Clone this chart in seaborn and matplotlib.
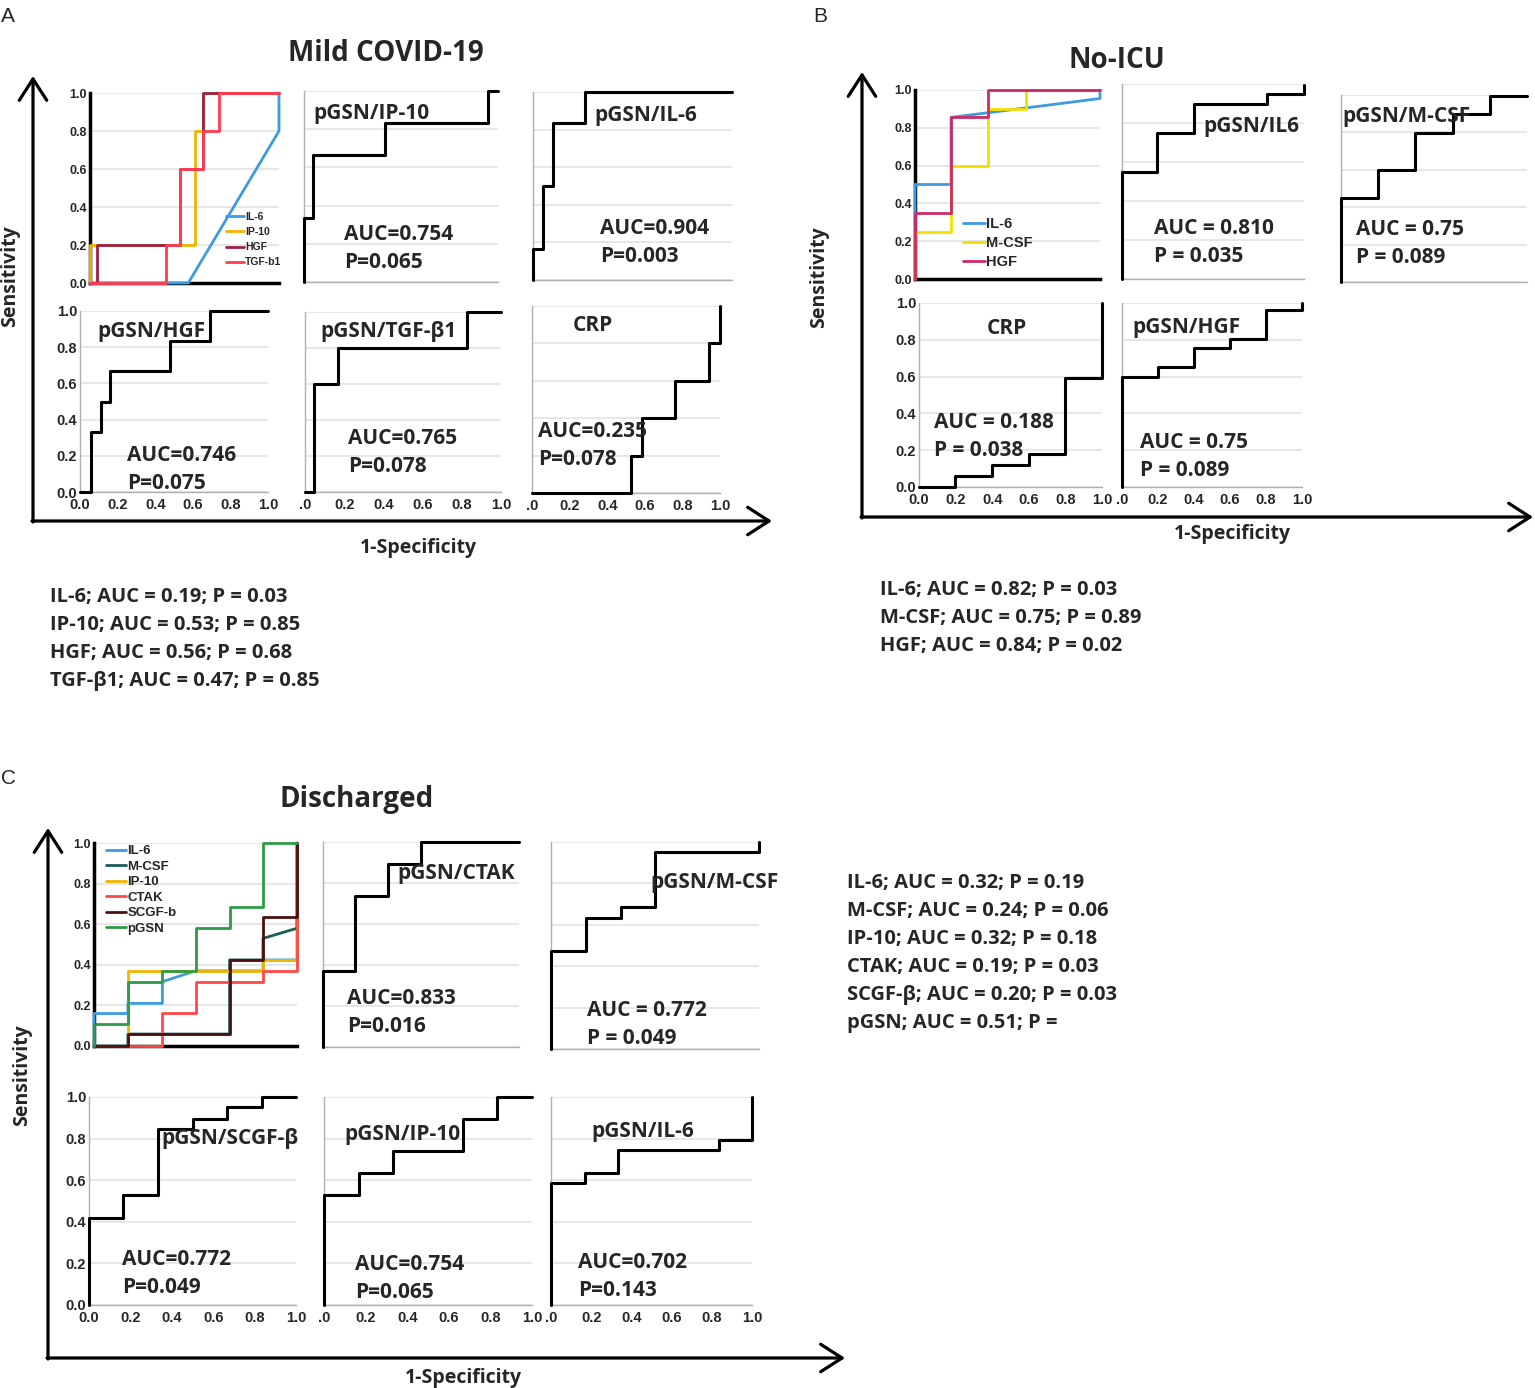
import numpy as np
import pandas as pd
import seaborn as sns
import matplotlib
matplotlib.use("Agg")
from matplotlib import pyplot as plt

sns.set_theme(style="white")
plt.rcParams['font.family'] = ['Open Sans', 'DejaVu Sans']

W, H = 1535, 1388
TICKS = [0, 0.2, 0.4, 0.6, 0.8, 1.0]
XLAB_FULL = ['0.0', '0.2', '0.4', '0.6', '0.8', '1.0']
XLAB_CUT = ['.0', '0.2', '0.4', '0.6', '0.8', '1.0']

# ---------------- A: Mild COVID-19 ----------------
a_il6_fpr = [0, 0.52, 1.0, 1.0]
a_il6_tpr = [0, 0, 0.8, 1.0]
a_ip10_fpr = [0, 0, 0.556, 0.556, 0.6, 0.6, 1.0]
a_ip10_tpr = [0, 0.2, 0.2, 0.8, 0.8, 1.0, 1.0]
a_hgf_fpr = [0, 0.035, 0.035, 0.476, 0.476, 0.6, 0.6, 1.0]
a_hgf_tpr = [0, 0, 0.2, 0.2, 0.6, 0.6, 1.0, 1.0]
a_tgf_fpr = [0, 0.40, 0.40, 0.476, 0.476, 0.6, 0.6, 0.68, 0.68, 1.0]
a_tgf_tpr = [0, 0, 0.2, 0.2, 0.6, 0.6, 0.8, 0.8, 1.0, 1.0]

a_pgsn_ip10_fpr = [0, 0, 0.048, 0.048, 0.42, 0.42, 0.95, 0.95, 1.0]
a_pgsn_ip10_tpr = [0, 0.335, 0.335, 0.665, 0.665, 0.834, 0.834, 1.0, 1.0]
a_pgsn_il6_fpr = [0, 0, 0.05, 0.05, 0.1, 0.1, 0.26, 0.26, 1.0]
a_pgsn_il6_tpr = [0, 0.165, 0.165, 0.5, 0.5, 0.835, 0.835, 1.0, 1.0]
a_pgsn_hgf_fpr = [0, 0.057, 0.057, 0.11, 0.11, 0.16, 0.16, 0.48, 0.48, 0.69, 0.69, 1.0]
a_pgsn_hgf_tpr = [0, 0, 0.333, 0.333, 0.5, 0.5, 0.667, 0.667, 0.833, 0.833, 1.0, 1.0]
a_pgsn_tgf_fpr = [0, 0.046, 0.046, 0.17, 0.17, 0.826, 0.826, 1.0]
a_pgsn_tgf_tpr = [0, 0, 0.6, 0.6, 0.8, 0.8, 1.0, 1.0]
a_crp_fpr = [0, 0.525, 0.525, 0.585, 0.585, 0.76, 0.76, 0.94, 0.94, 1.0, 1.0]
a_crp_tpr = [0, 0, 0.2, 0.2, 0.4, 0.4, 0.6, 0.6, 0.8, 0.8, 1.0]

a_notes = ["IL-6; AUC = 0.19; P = 0.03", "IP-10; AUC = 0.53; P = 0.85",
           "HGF; AUC = 0.56; P = 0.68", "TGF-β1; AUC = 0.47; P = 0.85"]

# ---------------- B: No-ICU ----------------
b_il6_fpr = [0, 0, 0.195, 0.195, 1.0, 1.0]
b_il6_tpr = [0, 0.5, 0.5, 0.855, 0.955, 1.0]
b_mcsf_fpr = [0, 0, 0.195, 0.195, 0.396, 0.396, 0.6, 0.6, 1.0]
b_mcsf_tpr = [0, 0.25, 0.25, 0.6, 0.6, 0.9, 0.9, 1.0, 1.0]
b_hgf_fpr = [0, 0, 0.195, 0.195, 0.396, 0.396, 1.0]
b_hgf_tpr = [0, 0.35, 0.35, 0.855, 0.855, 1.0, 1.0]

b_pgsn_il6_fpr = [0, 0, 0.194, 0.194, 0.394, 0.394, 0.797, 0.797, 1.0, 1.0]
b_pgsn_il6_tpr = [0, 0.547, 0.547, 0.749, 0.749, 0.899, 0.899, 0.949, 0.949, 0.993]
b_pgsn_mcsf_fpr = [0, 0, 0.201, 0.201, 0.399, 0.399, 0.601, 0.601, 0.803, 0.803, 1.0]
b_pgsn_mcsf_tpr = [0, 0.45, 0.45, 0.598, 0.598, 0.798, 0.798, 0.896, 0.896, 0.996, 0.996]
b_crp_fpr = [0, 0.195, 0.195, 0.4, 0.4, 0.6, 0.6, 0.8, 0.8, 1.0, 1.0]
b_crp_tpr = [0, 0, 0.058, 0.058, 0.118, 0.118, 0.178, 0.178, 0.59, 0.59, 1.0]
b_pgsn_hgf_fpr = [0, 0, 0.2, 0.2, 0.4, 0.4, 0.598, 0.598, 0.8, 0.8, 1.0, 1.0]
b_pgsn_hgf_tpr = [0, 0.6, 0.6, 0.651, 0.651, 0.755, 0.755, 0.805, 0.805, 0.96, 0.96, 1.0]

b_notes = ["IL-6; AUC = 0.82; P = 0.03", "M-CSF; AUC = 0.75; P = 0.89",
           "HGF; AUC = 0.84; P = 0.02"]

# ---------------- C: Discharged ----------------
c_il6_fpr = [0, 0, 0.167, 0.167, 0.337, 0.337, 0.5, 0.833, 0.833, 1.0, 1.0]
c_il6_tpr = [0, 0.16, 0.16, 0.21, 0.21, 0.317, 0.37, 0.37, 0.424, 0.424, 1.0]
c_mcsf_fpr = [0, 0.167, 0.167, 0.668, 0.668, 0.8325, 0.8325, 1.0, 1.0]
c_mcsf_tpr = [0, 0, 0.059, 0.059, 0.424, 0.424, 0.53, 0.58, 1.0]
c_ip10_fpr = [0, 0.167, 0.167, 0.8325, 0.8325, 1.0, 1.0]
c_ip10_tpr = [0, 0, 0.37, 0.37, 0.424, 0.424, 1.0]
c_ctak_fpr = [0, 0.333, 0.333, 0.5, 0.5, 0.8325, 0.8325, 1.0, 1.0]
c_ctak_tpr = [0, 0, 0.161, 0.161, 0.317, 0.317, 0.37, 0.37, 1.0]
c_scgf_fpr = [0, 0.167, 0.167, 0.668, 0.668, 0.8325, 0.8325, 1.0, 1.0]
c_scgf_tpr = [0, 0, 0.059, 0.059, 0.424, 0.424, 0.635, 0.635, 1.0]
c_pgsn_fpr = [0, 0, 0.167, 0.167, 0.337, 0.337, 0.5, 0.5, 0.668, 0.668, 0.8325, 0.8325, 1.0]
c_pgsn_tpr = [0, 0.107, 0.107, 0.317, 0.317, 0.37, 0.37, 0.58, 0.58, 0.684, 0.684, 1.0, 1.0]

c_pgsn_ctak_fpr = [0, 0, 0.165, 0.165, 0.33, 0.33, 0.498, 0.498, 1.0]
c_pgsn_ctak_tpr = [0, 0.369, 0.369, 0.735, 0.735, 0.894, 0.894, 1.0, 1.0]
c_pgsn_mcsf_fpr = [0, 0, 0.166, 0.166, 0.336, 0.336, 0.499, 0.499, 1.0, 1.0]
c_pgsn_mcsf_tpr = [0, 0.475, 0.475, 0.633, 0.633, 0.686, 0.686, 0.952, 0.952, 1.0]
c_pgsn_scgf_fpr = [0, 0, 0.162, 0.162, 0.333, 0.333, 0.5, 0.5, 0.667, 0.667, 0.836, 0.836, 1.0]
c_pgsn_scgf_tpr = [0, 0.42, 0.42, 0.528, 0.528, 0.845, 0.845, 0.894, 0.894, 0.95, 0.95, 1.0, 1.0]
c_pgsn_ip10_fpr = [0, 0, 0.167, 0.167, 0.333, 0.333, 0.667, 0.667, 0.833, 0.833, 1.0]
c_pgsn_ip10_tpr = [0, 0.528, 0.528, 0.633, 0.633, 0.741, 0.741, 0.894, 0.894, 1.0, 1.0]
c_pgsn_il6_fpr = [0, 0, 0.169, 0.169, 0.335, 0.335, 0.836, 0.836, 1.0, 1.0]
c_pgsn_il6_tpr = [0, 0.585, 0.585, 0.633, 0.633, 0.746, 0.746, 0.794, 0.794, 1.0]

c_notes = ["IL-6; AUC = 0.32; P = 0.19", "M-CSF; AUC = 0.24; P = 0.06",
           "IP-10; AUC = 0.32; P = 0.18", "CTAK; AUC = 0.19; P = 0.03",
           "SCGF-β; AUC = 0.20; P = 0.03", "pGSN; AUC = 0.51; P ="]

fig = plt.figure(figsize=(W / 100, H / 100), dpi=100)


def px_axes(x0, x1, yt, yb):
    # pixel spots where fpr=0, fpr=1, tpr=1, tpr=0
    return fig.add_axes([x0 / W, 1 - yb / H, (x1 - x0) / W, (yb - yt) / H])


def style(ax, xlab=None, ylab=False, strong=False, tsize=10.5):
    ax.set_xlim(0, 1)
    ax.set_ylim(0, 1)
    ax.set_facecolor('none')
    ax.set_xticks(TICKS)
    ax.set_yticks(TICKS)
    ax.grid(False)
    ax.yaxis.grid(True, color='#e0e0e0', lw=1.1)
    ax.set_axisbelow(True)
    ax.set_xlabel('')
    ax.set_ylabel('')
    tk = dict(fontfamily='Liberation Sans', fontweight='bold', fontsize=tsize)
    if xlab is not None:
        ax.set_xticklabels(xlab, **tk)
    else:
        ax.set_xticklabels([])
    if ylab:
        ax.set_yticklabels(XLAB_FULL, **tk)
    else:
        ax.set_yticklabels([])
    ax.tick_params(length=0, pad=2)
    ax.tick_params(axis='x', pad=4)
    for s in ['top', 'right']:
        ax.spines[s].set_visible(False)
    for s in ['left', 'bottom']:
        if strong:
            ax.spines[s].set_color('black')
            ax.spines[s].set_linewidth(2.5)
        else:
            ax.spines[s].set_color('#b0b0b0')
            ax.spines[s].set_linewidth(1)
    for ln in ax.lines:
        ln.set_clip_on(False)
        ln.set_zorder(3)


def single(box, fpr, tpr, title, auc, p, tpos, apos, xlab=None, ylab=False):
    ax = px_axes(*box)
    df = pd.DataFrame({'fpr': fpr, 'tpr': tpr})
    sns.lineplot(data=df, x='fpr', y='tpr', sort=False, estimator=None,
                 color='black', lw=2.2, ax=ax)
    style(ax, xlab, ylab)
    span = box[3] - box[2]
    dy = 2.0 / span
    ax.text(tpos[0], tpos[1] - dy, title, fontsize=15, fontweight='bold', va='center', ha='left')
    ax.text(apos[0], apos[1] - dy, auc, fontsize=15, fontweight='bold', va='center', ha='left')
    ax.text(apos[0], apos[1] - dy - 28.0 / span, p,
            fontsize=15, fontweight='bold', va='center', ha='left')
    return ax


def multi(box, curves, pal, leg_anchor, leg_size, leg_space, hlen):
    ax = px_axes(*box)
    df = pd.concat([pd.DataFrame({'fpr': f, 'tpr': t, 'marker': n}) for n, f, t in curves])
    order = [c[0] for c in curves]
    sns.lineplot(data=df, x='fpr', y='tpr', hue='marker', hue_order=order, palette=pal,
                 sort=False, estimator=None, lw=2, ax=ax)
    style(ax, None, True, strong=True, tsize=9)
    h, l = ax.get_legend_handles_labels()
    ax.legend(h, l, loc='upper left', bbox_to_anchor=leg_anchor, frameon=False,
              handlelength=hlen, handletextpad=0.1, labelspacing=leg_space,
              borderaxespad=0, borderpad=0,
              prop=dict(family='Liberation Sans', weight='bold', size=leg_size))
    return ax


# ---- A ----
multi((90, 279, 93, 283),
      [('IL-6', a_il6_fpr, a_il6_tpr), ('IP-10', a_ip10_fpr, a_ip10_tpr),
       ('HGF', a_hgf_fpr, a_hgf_tpr), ('TGF-b1', a_tgf_fpr, a_tgf_tpr)],
      ['#3d9be0', '#f2b400', '#9c1f4b', '#ff3c50'], (0.72, 0.375), 7.5, 0.5, 1.7)
single((304, 498, 91, 282), a_pgsn_ip10_fpr, a_pgsn_ip10_tpr, 'pGSN/IP-10',
       'AUC=0.754', 'P=0.065', (0.046, 0.895), (0.206, 0.257))
single((533, 732, 92, 280), a_pgsn_il6_fpr, a_pgsn_il6_tpr, 'pGSN/IL-6',
       'AUC=0.904', 'P=0.003', (0.31, 0.883), (0.337, 0.282))
single((80, 268, 311, 492), a_pgsn_hgf_fpr, a_pgsn_hgf_tpr, 'pGSN/HGF',
       'AUC=0.746', 'P=0.075', (0.09, 0.9), (0.25, 0.21), XLAB_FULL, True)
single((305, 501, 312, 492), a_pgsn_tgf_fpr, a_pgsn_tgf_tpr, 'pGSN/TGF-β1',
       'AUC=0.765', 'P=0.078', (0.077, 0.9), (0.22, 0.306), XLAB_CUT)
single((532, 720, 306, 493), a_crp_fpr, a_crp_tpr, 'CRP',
       'AUC=0.235', 'P=0.078', (0.218, 0.904), (0.032, 0.342), XLAB_CUT)

# ---- B ----
multi((915, 1100, 90, 279),
      [('IL-6', b_il6_fpr, b_il6_tpr), ('M-CSF', b_mcsf_fpr, b_mcsf_tpr),
       ('HGF', b_hgf_fpr, b_hgf_tpr)],
      ['#3d9be0', '#f2e000', '#cc2a66'], (0.26, 0.33), 10.5, 0.35, 1.5)
single((1122, 1304, 84, 279), b_pgsn_il6_fpr, b_pgsn_il6_tpr, 'pGSN/IL6',
       'AUC = 0.810', 'P = 0.035', (0.445, 0.79), (0.176, 0.267))
single((1341, 1527, 95, 282), b_pgsn_mcsf_fpr, b_pgsn_mcsf_tpr, 'pGSN/M-CSF',
       'AUC = 0.75', 'P = 0.089', (0.01, 0.895), (0.08, 0.294))
single((919, 1102, 303, 487), b_crp_fpr, b_crp_tpr, 'CRP',
       'AUC = 0.188', 'P = 0.038', (0.37, 0.87), (0.082, 0.359), XLAB_FULL, True)
single((1122, 1302, 303, 487), b_pgsn_hgf_fpr, b_pgsn_hgf_tpr, 'pGSN/HGF',
       'AUC = 0.75', 'P = 0.089', (0.06, 0.875), (0.1, 0.25), XLAB_CUT)

# ---- C ----
multi((94, 297, 843, 1046),
      [('IL-6', c_il6_fpr, c_il6_tpr), ('M-CSF', c_mcsf_fpr, c_mcsf_tpr),
       ('IP-10', c_ip10_fpr, c_ip10_tpr), ('CTAK', c_ctak_fpr, c_ctak_tpr),
       ('SCGF-b', c_scgf_fpr, c_scgf_tpr), ('pGSN', c_pgsn_fpr, c_pgsn_tpr)],
      ['#3d9be0', '#1a5c5a', '#f2b400', '#ff4848', '#4d0f0f', '#2e9b45'],
      (0.06, 0.99), 9.5, 0.25, 1.5)
single((323, 519, 842, 1047), c_pgsn_ctak_fpr, c_pgsn_ctak_tpr, 'pGSN/CTAK',
       'AUC=0.833', 'P=0.016', (0.378, 0.858), (0.122, 0.244))
single((551, 759, 842, 1049), c_pgsn_mcsf_fpr, c_pgsn_mcsf_tpr, 'pGSN/M-CSF',
       'AUC = 0.772', 'P = 0.049', (0.476, 0.812), (0.173, 0.198))
single((89, 296, 1097, 1305), c_pgsn_scgf_fpr, c_pgsn_scgf_tpr, 'pGSN/SCGF-β',
       'AUC=0.772', 'P=0.049', (0.348, 0.812), (0.159, 0.23), XLAB_FULL, True)
single((324, 532, 1097, 1305), c_pgsn_ip10_fpr, c_pgsn_ip10_tpr, 'pGSN/IP-10',
       'AUC=0.754', 'P=0.065', (0.1, 0.827), (0.149, 0.202), XLAB_CUT)
single((551, 752, 1097, 1305), c_pgsn_il6_fpr, c_pgsn_il6_tpr, 'pGSN/IL-6',
       'AUC=0.702', 'P=0.143', (0.199, 0.846), (0.134, 0.216), XLAB_CUT)

# ---- overlay: arrows, titles, notes ----
ov = fig.add_axes([0, 0, 1, 1])
ov.set_xlim(0, W)
ov.set_ylim(H, 0)
ov.axis('off')
ov.patch.set_alpha(0)

arrow = dict(arrowstyle='->,head_length=0.7,head_width=0.45', lw=2.3, color='black',
             mutation_scale=22, shrinkA=0, shrinkB=0)
for x0, y0, ytip, xtip in [(33, 521, 76, 772), (862, 517, 72, 1533), (48, 1358, 828, 845)]:
    ov.annotate('', xy=(x0, ytip), xytext=(x0, y0 + 1), arrowprops=arrow)
    ov.annotate('', xy=(xtip, y0), xytext=(x0 - 1, y0), arrowprops=arrow)

for txt, x, y in [('Mild COVID-19', 386, 53), ('No-ICU', 1117, 60), ('Discharged', 357, 799)]:
    ov.text(x, y, txt, fontsize=20, fontweight='bold', ha='center', va='center')

for x, y in [(10, 276), (819, 277), (22, 1075)]:
    ov.text(x, y, 'Sensitivity', fontsize=14, fontweight='bold', rotation=90,
            ha='center', va='center')
for x, y in [(418, 548), (1232, 534), (463, 1378)]:
    ov.text(x, y, '1-Specificity', fontsize=14, fontweight='bold', ha='center', va='center')

for txt, x, y in [('A', 8, 16), ('B', 820, 16), ('C', 8, 778)]:
    ov.text(x, y, txt, fontsize=15, fontfamily='Liberation Sans', ha='center', va='center')

for notes, x, y0 in [(a_notes, 50, 597), (b_notes, 880, 590), (c_notes, 847, 883)]:
    for i, line in enumerate(notes):
        ov.text(x, y0 + 28 * i, line, fontsize=14.5, fontweight='bold', ha='left', va='center')

fig.savefig('out.png', dpi=100)
